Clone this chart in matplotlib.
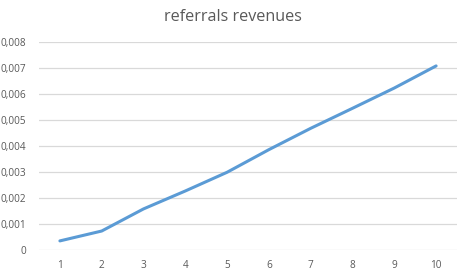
import matplotlib
matplotlib.use("Agg")
import matplotlib.pyplot as plt
from matplotlib.ticker import FuncFormatter

categories = [1, 2, 3, 4, 5, 6, 7, 8, 9, 10]
revenues = [0.00035, 0.00073, 0.00158, 0.00227, 0.00299, 0.00386, 0.00468, 0.00545, 0.00623, 0.00708]
y_ticks = [0, 0.001, 0.002, 0.003, 0.004, 0.005, 0.006, 0.007, 0.008]

plt.rcParams['font.family'] = ['Open Sans', 'DejaVu Sans']

fig = plt.figure(figsize=(4.6, 2.74), dpi=100)
W, H = 460, 274
ax = fig.add_axes([39 / W, (H - 250) / H, (457 - 39) / W, (250 - 42) / H])

ax.plot(categories, revenues, color='#5b9bd5', linewidth=2.2, solid_capstyle='round', solid_joinstyle='round', zorder=3)

ax.set_xlim(0.5, 10.5)
ax.set_ylim(0, 0.008)
ax.set_xticks(categories)
ax.set_yticks(y_ticks)
ax.yaxis.set_major_formatter(FuncFormatter(lambda v, p: '0' if v == 0 else f"{v:.3f}".replace('.', ',')))
ax.grid(axis='y', color='#d9d9d9', linewidth=0.9, zorder=0)
ax.set_axisbelow(True)
for s in ax.spines.values():
    s.set_visible(False)
ax.tick_params(axis='both', length=0, labelsize=7.2, labelcolor='#595959')
ax.tick_params(axis='y', pad=9)
ax.tick_params(axis='x', pad=7)

fig.text(233 / W, 1 - 17 / H, 'referrals revenues', ha='center', va='center', fontsize=11.6, color='#595959')

fig.savefig('out.png', dpi=100, facecolor='white')
